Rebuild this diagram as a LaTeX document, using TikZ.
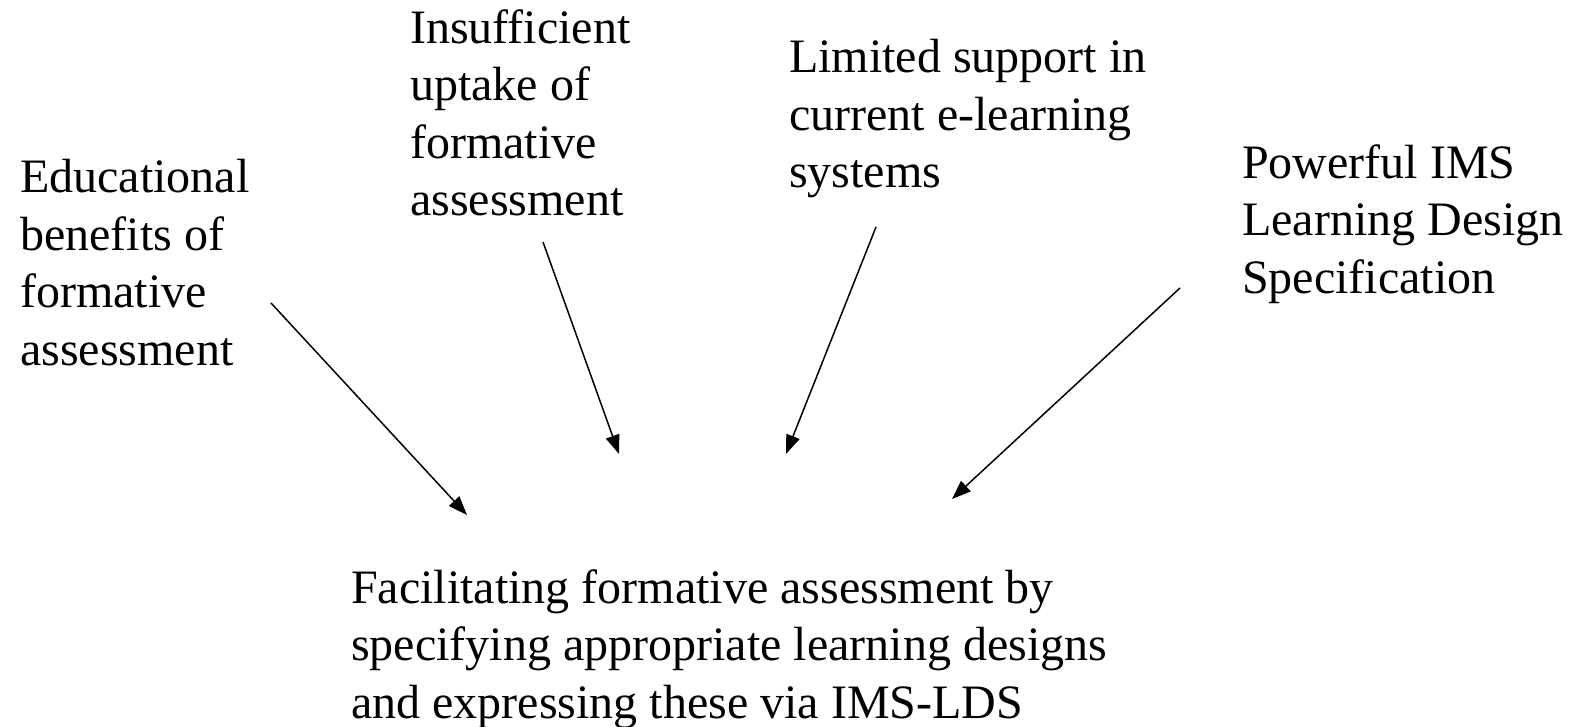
\documentclass[tikz,border=0pt]{standalone}
\usepackage{fontspec}
\setmainfont{Liberation Serif}
\usetikzlibrary{arrows.meta}
\begin{document}
\begin{tikzpicture}[x=1pt,y=-1pt,
  label/.style={anchor=north west,inner sep=0pt,align=left,
    font=\fontsize{48}{57.5}\selectfont},
  feed/.style={line width=1.5pt,-{Triangle[length=19pt,width=14pt]}}]
\useasboundingbox (0,0) rectangle (1574,726);
% source statements
\node[label] (benefits) at (20,159) {Educational\\benefits of\\formative\\assessment};
\node[label] (uptake) at (410,9) {Insufficient\\uptake of\\formative\\assessment};
\node[label] (support) at (789,39) {Limited support in\\current e-learning\\systems};
\node[label] (ims) at (1242,144) {Powerful IMS\\Learning Design\\Specification};
% resulting goal
\node[label] (goal) at (351,569) {Facilitating formative assessment by\\specifying appropriate learning designs\\and expressing these via IMS-LDS};
% arrow ends
\coordinate (b1) at (271,303);
\coordinate (b2) at (467,515);
\coordinate (u1) at (543,242);
\coordinate (u2) at (619,454);
\coordinate (s1) at (876,227);
\coordinate (s2) at (786,454);
\coordinate (i1) at (1180,288);
\coordinate (i2) at (952,499);
\draw[feed] (b1) -- (b2);
\draw[feed] (u1) -- (u2);
\draw[feed] (s1) -- (s2);
\draw[feed] (i1) -- (i2);
\end{tikzpicture}
\end{document}
